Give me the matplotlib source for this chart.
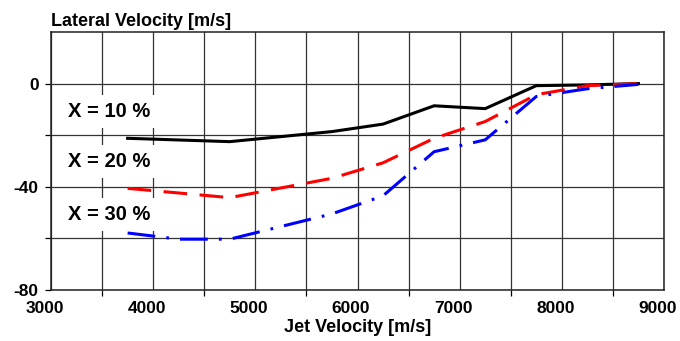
import matplotlib
matplotlib.use("Agg")
import matplotlib.pyplot as plt
import matplotlib.transforms as mtransforms
from matplotlib.ticker import MultipleLocator, FixedLocator

plt.rcParams['font.family'] = ['Liberation Sans', 'DejaVu Sans']
plt.rcParams['lines.scale_dashes'] = False

# ---- data ----
x_10 = [3750, 4750, 5750, 6250, 6750, 7250, 7750, 8250, 8750]
y_10 = [-21.2, -22.5, -18.6, -15.7, -8.6, -9.7, -0.8, -0.5, 0.0]

x_20 = [3750, 4750, 5750, 6250, 6750, 7250, 7750, 8250, 8750]
y_20 = [-40.6, -44.2, -36.7, -30.7, -21.2, -14.7, -4.3, -0.8, 0.0]

x_30 = [3750, 4250, 4750, 5750, 6250, 6750, 7250, 7750, 8250, 8750]
y_30 = [-57.9, -60.3, -60.3, -50.5, -43.5, -26.4, -21.8, -5.0, -2.0, -0.3]

series_labels = ["X = 10 %", "X = 20 %", "X = 30 %"]
label_y = [-10.7, -30.2, -50.6]

x_ticks = [3000, 4000, 5000, 6000, 7000, 8000, 9000]
y_ticks = [-80, -40, 0]

x_title = "Jet Velocity [m/s]"
y_title = "Lateral Velocity [m/s]"

# ---- figure ----
fig = plt.figure(figsize=(6.8, 3.41), dpi=100)
ax = fig.add_axes([51/680, 1 - 290/341, (664 - 51)/680, (290 - 32)/341])

ax.set_xlim(3000, 9000)
ax.set_ylim(-80, 20)

gcol = '#333333'
ax.xaxis.set_major_locator(FixedLocator(x_ticks))
ax.xaxis.set_minor_locator(MultipleLocator(500))
ax.yaxis.set_major_locator(FixedLocator(y_ticks))
ax.yaxis.set_minor_locator(FixedLocator([-60, -20]))
ax.grid(True, which='both', color=gcol, lw=0.9, zorder=0)
ax.set_axisbelow(True)

ax.tick_params(axis='x', which='major', length=0, pad=8, labelsize=12.5)
ax.tick_params(axis='x', which='minor', length=4.3, width=0.9, color='black', direction='out')
ax.tick_params(axis='y', which='both', length=4.3, width=0.9, color='black', direction='out', pad=4.5, labelsize=12.5)
ax.set_xticklabels([str(v) for v in x_ticks], fontweight='bold')
ax.set_yticklabels([str(v) for v in y_ticks], fontweight='bold')

# x tick labels sit slightly left of their ticks in the reference
shift = mtransforms.ScaledTranslation(-6.4 / 100, 0, fig.dpi_scale_trans)
for lab in ax.get_xticklabels():
    lab.set_transform(lab.get_transform() + shift)

for s in ax.spines.values():
    s.set_color('#222222')
    s.set_linewidth(1.1)
    s.set_zorder(5)

lw = 2.2
ax.plot(x_10, y_10, color='black', lw=lw, solid_joinstyle='miter', zorder=3)
ax.plot(x_20, y_20, color='#ff0000', lw=lw, linestyle=(0, (17, 9)),
        dash_capstyle='butt', zorder=3)
ax.plot(x_30, y_30, color='#0000ff', lw=lw, linestyle=(0, (20, 8, 2, 8)),
        dash_capstyle='butt', zorder=3)

for txt, yy in zip(series_labels, label_y):
    ax.text(3166, yy, txt, fontsize=14.5, fontweight='bold', ha='left', va='center',
            zorder=2,
            bbox=dict(boxstyle='square,pad=0.35', facecolor='white', edgecolor='none'))

fig.text(51/680, 1 - 26.5/341, y_title, fontsize=13, fontweight='bold',
         ha='left', va='baseline')
fig.text((51 + 664) / 2 / 680, 1 - 332/341, x_title, fontsize=13, fontweight='bold',
         ha='center', va='baseline')

fig.savefig("out.png", dpi=100, facecolor='white')
